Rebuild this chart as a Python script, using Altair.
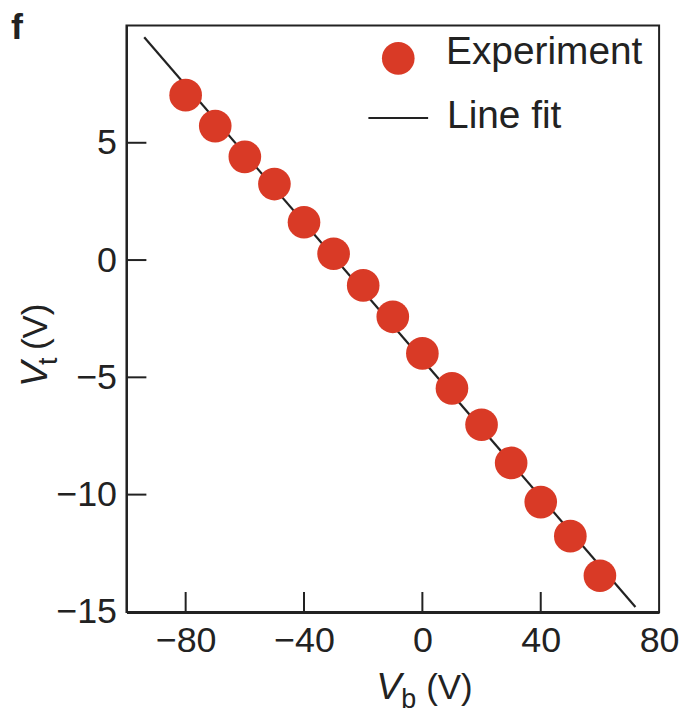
import altair as alt
import pandas as pd

# ---- data ----
vb = [-80, -70, -60, -50, -40, -30, -20, -10, 0, 10, 20, 30, 40, 50, 60]
vt = [7.03, 5.71, 4.40, 3.24, 1.61, 0.27, -1.08, -2.42, -3.98, -5.47,
      -7.02, -8.65, -10.32, -11.77, -13.46]
fit_vb = [-94, 72]
fit_vt = [9.50, -14.79]
x_ticks = [-80, -40, 0, 40, 80]
y_ticks = [-15, -10, -5, 0, 5]

W, H = 535, 589
FONT = "Liberation Sans"
RED = "#d93a26"
INK = "#222222"

pts = pd.DataFrame({"vb": vb, "vt": vt})
fit = pd.DataFrame({"vb": fit_vb, "vt": fit_vt})

xs = alt.Scale(domain=[-100, 80], nice=False, zero=False)
ys = alt.Scale(domain=[-15, 10], nice=False, zero=False)

xaxis = alt.Axis(values=x_ticks, tickSize=0, labelPadding=12, labelFontSize=36,
                 labelFont=FONT, labelColor=INK, domainColor=INK, domainWidth=3,
                 labelFlush=False, labelOverlap=False, grid=False, title=None)
yaxis = alt.Axis(values=y_ticks, tickSize=0, labelPadding=10, labelFontSize=36,
                 labelFont=FONT, labelColor=INK, domainColor=INK, domainWidth=2,
                 labelFlush=False, labelOverlap=False, grid=False, title=None)

line = alt.Chart(fit).mark_line(color=INK, strokeWidth=2.2).encode(
    x=alt.X("vb:Q", scale=xs, axis=xaxis),
    y=alt.Y("vt:Q", scale=ys, axis=yaxis),
)
points = alt.Chart(pts).mark_circle(size=1075, color=RED, opacity=1).encode(
    x=alt.X("vb:Q", scale=xs, axis=xaxis),
    y=alt.Y("vt:Q", scale=ys, axis=yaxis),
)

# inward ticks
xt = alt.Chart(pd.DataFrame({"vb": x_ticks[:-1]})).mark_rule(color=INK, strokeWidth=2).encode(
    x=alt.X("vb:Q", scale=xs, axis=xaxis), y=alt.value(H), y2=alt.value(H - 20)
)
yt = alt.Chart(pd.DataFrame({"vt": y_ticks[1:]})).mark_rule(color=INK, strokeWidth=2).encode(
    y=alt.Y("vt:Q", scale=ys, axis=yaxis), x=alt.value(0), x2=alt.value(20)
)


def label(txt, x, y, size, baseline="alphabetic", **kw):
    return alt.Chart(pd.DataFrame({"t": [txt]})).mark_text(
        font=FONT, fontSize=size, color=INK, align="left", baseline=baseline, **kw
    ).encode(text="t:N", x=alt.value(x), y=alt.value(y))


# axis titles with subscripts
xtitle = [
    label("V", 251, 677, 38, fontStyle="italic"),
    label("b", 276, 686, 27),
    label("(V)", 301, 677, 35),
]
ytitle = [
    label("V", -80, 363, 38, fontStyle="italic", angle=270),
    label("t", -70, 341, 27, angle=270),
    label("(V)", -80, 326, 35, angle=270),
]
panel = label("f", -116, -14, 36, baseline="top", fontWeight="bold")

# legend
leg_pt = alt.Chart(pd.DataFrame({"t": ["Experiment"]})).mark_circle(
    size=1075, color=RED, opacity=1).encode(x=alt.value(273), y=alt.value(33))
leg_ln = alt.Chart(pd.DataFrame({"t": ["Line fit"]})).mark_rule(
    color=INK, strokeWidth=2).encode(x=alt.value(243), x2=alt.value(303), y=alt.value(93))
leg_t1 = label("Experiment", 321, 39, 39)
leg_t2 = label("Line fit", 322, 103, 39)

chart = alt.layer(
    line, points, xt, yt, *xtitle, *ytitle, panel, leg_pt, leg_ln, leg_t1, leg_t2
).properties(
    width=W, height=H,
    autosize=alt.AutoSizeParams(type="none"),
    padding={"left": 119, "top": 16, "right": 22, "bottom": 103},
).configure_view(stroke=INK, strokeWidth=2)

chart.save("out.html", embed_options={"renderer": "svg", "actions": False})
